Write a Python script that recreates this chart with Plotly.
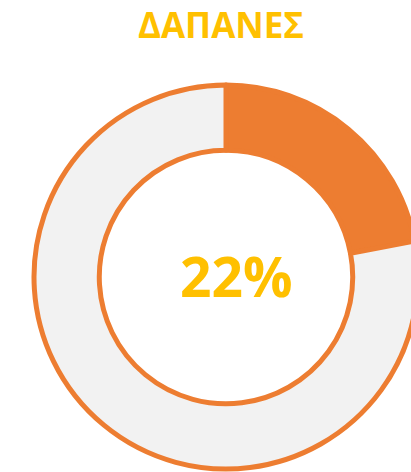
import plotly.graph_objects as go

labels = ["Δαπάνες", "Υπόλοιπο"]
values = [22, 78]
slice_colors = ["#ED7D31", "#F2F2F2"]
title_text = "ΔΑΠΑΝΕΣ"
center_text = "22%"

W, H = 420, 472
ml, mr, mt, mb = 34, W - 34 - 384, 85, H - 85 - 384

fig = go.Figure(go.Pie(
    labels=labels,
    values=values,
    hole=0.66,
    sort=False,
    direction="clockwise",
    rotation=0,
    marker=dict(colors=slice_colors, line=dict(color="#ED7D31", width=5)),
    textinfo="none",
    hoverinfo="label+percent",
    showlegend=False,
))

fig.update_layout(
    width=W, height=H,
    margin=dict(l=ml, r=mr, t=mt, b=mb, pad=0),
    paper_bgcolor="white",
    plot_bgcolor="white",
    title=dict(text="<b>" + title_text + "</b>", x=221 / W, xanchor="center",
               y=1 - 26 / H, yanchor="middle", yref="container",
               font=dict(family="Open Sans", size=35, color="#FFC000")),
    annotations=[dict(text="<b>" + center_text + "</b>", x=(236 - ml) / 384,
                      y=1 - (275 - mt) / 384, xref="paper", yref="paper",
                      showarrow=False, xanchor="center", yanchor="middle",
                      font=dict(family="Open Sans", size=55, color="#FFC000"))],
)

fig.write_html("out.html", config={"displayModeBar": False},
               post_script="document.body.style.margin='0';document.body.style.overflow='hidden';document.documentElement.style.overflow='hidden';")
